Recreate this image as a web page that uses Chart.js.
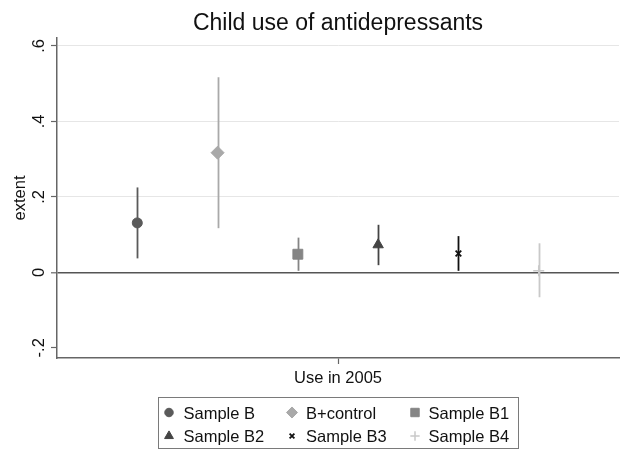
<!DOCTYPE html>
<html>
<head>
<meta charset="utf-8">
<script src="https://cdn.jsdelivr.net/npm/chart.js@4/dist/chart.umd.min.js"></script>
<style>
  html, body { margin: 0; padding: 0; background: #fff; }
  #wrap { width: 620px; height: 450px; }
</style>
</head>
<body>
<div id="wrap"><canvas id="c" width="620" height="450"></canvas></div>
<script>
// Point estimates with confidence intervals, one series per sample
const seriesNames = ['Sample B', 'B+control', 'Sample B1', 'Sample B2', 'Sample B3', 'Sample B4'];
const estimates   = [0.131, 0.317, 0.048, 0.073, 0.050, 0.004];
const ciLow       = [0.037, 0.117, 0.004, 0.019, 0.004, -0.066];
const ciHigh      = [0.225, 0.517, 0.092, 0.126, 0.096, 0.077];

const yTickValues = [-0.2, 0, 0.2, 0.4, 0.6];
const yTickLabels = ['-.2', '0', '.2', '.4', '.6'];
const xCategory   = 'Use in 2005';
const chartTitle  = 'Child use of antidepressants';
const yTitle      = 'extent';

// Marker styling per series
const markerColors = ['#5a5a5a', '#a9a9a9', '#858585', '#444444', '#111111', '#c9c9c9'];
const markerShapes = ['circle', 'rectRot', 'rect', 'triangle', 'crossRot', 'cross'];
const markerSizes  = [5, 6.5, 7, 6, 4, 5.5];
const markerLines  = [1, 1, 1, 1, 1.8, 1.5];

const FONT = '"Liberation Sans", Arial, Helvetica, sans-serif';

const datasets = seriesNames.map((name, i) => ({
  label: name,
  data: [{ x: i + 1, y: estimates[i] }],
  lo: ciLow[i],
  hi: ciHigh[i],
  pointStyle: markerShapes[i],
  pointRadius: markerSizes[i],
  pointBorderWidth: markerLines[i],
  backgroundColor: markerColors[i],
  borderColor: markerColors[i],
  showLine: false
}));

// Vertical confidence-interval spikes under each marker
const ciSpikes = {
  id: 'ciSpikes',
  beforeDatasetsDraw(chart) {
    const { ctx, scales: { x, y } } = chart;
    ctx.save();
    chart.data.datasets.forEach((ds) => {
      const px = Math.round(x.getPixelForValue(ds.data[0].x)) + 0.5;
      ctx.strokeStyle = ds.borderColor;
      ctx.lineWidth = 1.8;
      ctx.beginPath();
      ctx.moveTo(px, y.getPixelForValue(ds.lo));
      ctx.lineTo(px, y.getPixelForValue(ds.hi));
      ctx.stroke();
    });
    ctx.restore();
  }
};

// Title, rotated y labels and the boxed legend
const decorations = {
  id: 'decorations',
  afterDraw(chart) {
    const { ctx, chartArea, scales: { y } } = chart;
    ctx.save();
    ctx.fillStyle = '#111';

    ctx.font = '23px ' + FONT;
    ctx.textAlign = 'center';
    ctx.textBaseline = 'alphabetic';
    ctx.fillText(chartTitle, (chartArea.left + chartArea.right) / 2, 29.5);

    ctx.font = '16.5px ' + FONT;
    yTickValues.forEach((v, i) => {
      const py = y.getPixelForValue(v);
      ctx.save();
      ctx.translate(43.5, py);
      ctx.rotate(-Math.PI / 2);
      ctx.textAlign = 'center';
      ctx.fillText(yTickLabels[i], 0, 0);
      ctx.restore();
    });

    ctx.save();
    ctx.translate(25, (chartArea.top + chartArea.bottom) / 2);
    ctx.rotate(-Math.PI / 2);
    ctx.textAlign = 'center';
    ctx.fillText(yTitle, 0, 0);
    ctx.restore();

    // legend box
    const bx = 158.5, by = 397, bw = 360, bh = 51;
    ctx.strokeStyle = '#7a7a7a';
    ctx.lineWidth = 1;
    ctx.strokeRect(bx, by + 0.5, bw, bh);

    const colMarker = [169, 292, 415];
    const colText = [183.5, 306, 428.5];
    const rowMid = [412.5, 436];
    const rowBase = [418.5, 441.8];
    const drawPoint = Chart.helpers && Chart.helpers.drawPoint;
    chart.data.datasets.forEach((ds, i) => {
      const r = Math.floor(i / 3), c = i % 3;
      ctx.fillStyle = ds.backgroundColor;
      ctx.strokeStyle = ds.borderColor;
      ctx.lineWidth = ds.pointBorderWidth;
      const opts = { pointStyle: ds.pointStyle, radius: ds.pointRadius * 0.85, rotation: 0, borderWidth: ds.pointBorderWidth };
      if (drawPoint) {
        drawPoint(ctx, opts, colMarker[c], rowMid[r]);
      } else {
        ctx.beginPath();
        ctx.arc(colMarker[c], rowMid[r], opts.radius, 0, Math.PI * 2);
        ctx.fill();
      }
      ctx.fillStyle = '#111';
      ctx.textAlign = 'left';
      ctx.textBaseline = 'alphabetic';
      ctx.font = '16.5px ' + FONT;
      ctx.fillText(ds.label, colText[c], rowBase[r]);
    });
    ctx.restore();
  }
};

const whiteBg = {
  id: 'whiteBg',
  beforeDraw(chart) {
    const { ctx, width, height } = chart;
    ctx.save();
    ctx.fillStyle = '#fff';
    ctx.fillRect(0, 0, width, height);
    ctx.restore();
  }
};

new Chart(document.getElementById('c'), {
  type: 'scatter',
  data: { datasets },
  options: {
    responsive: false,
    devicePixelRatio: 1,
    animation: false,
    layout: { autoPadding: false, padding: { top: 38, right: 1, left: 0, bottom: 0 } },
    plugins: { legend: { display: false }, tooltip: { enabled: false }, title: { display: false } },
    scales: {
      x: {
        type: 'linear',
        min: 0,
        max: 7,
        afterBuildTicks(scale) { scale.ticks = [{ value: 3.5 }]; },
        afterFit(scale) { scale.height = 92; scale.paddingLeft = 0; scale.paddingRight = 0; },
        ticks: {
          callback: () => xCategory,
          color: '#111',
          font: { family: FONT, size: 16.5 },
          padding: 5,
          maxRotation: 0,
          autoSkip: false
        },
        grid: {
          drawOnChartArea: false,
          color: 'rgba(0,0,0,0)',
          tickColor: '#666',
          tickLength: 6,
          tickWidth: 1.2
        },
        border: { color: '#666', width: 1.5 }
      },
      y: {
        type: 'linear',
        min: -0.227,
        max: 0.621,
        afterBuildTicks(scale) { scale.ticks = yTickValues.map(v => ({ value: v })); },
        afterFit(scale) { scale.width = 57; },
        ticks: { display: false },
        grid: {
          color: (c) => c.tick && c.tick.value === 0 ? '#555' : (c.tick && c.tick.value === -0.2 ? 'rgba(0,0,0,0)' : '#e6e6e6'),
          lineWidth: (c) => c.tick && c.tick.value === 0 ? 1.6 : 1,
          tickColor: '#666',
          tickLength: 6,
          tickWidth: 1.2
        },
        border: { color: '#666', width: 1.5 }
      }
    }
  },
  plugins: [whiteBg, ciSpikes, decorations]
});
</script>
</body>
</html>
